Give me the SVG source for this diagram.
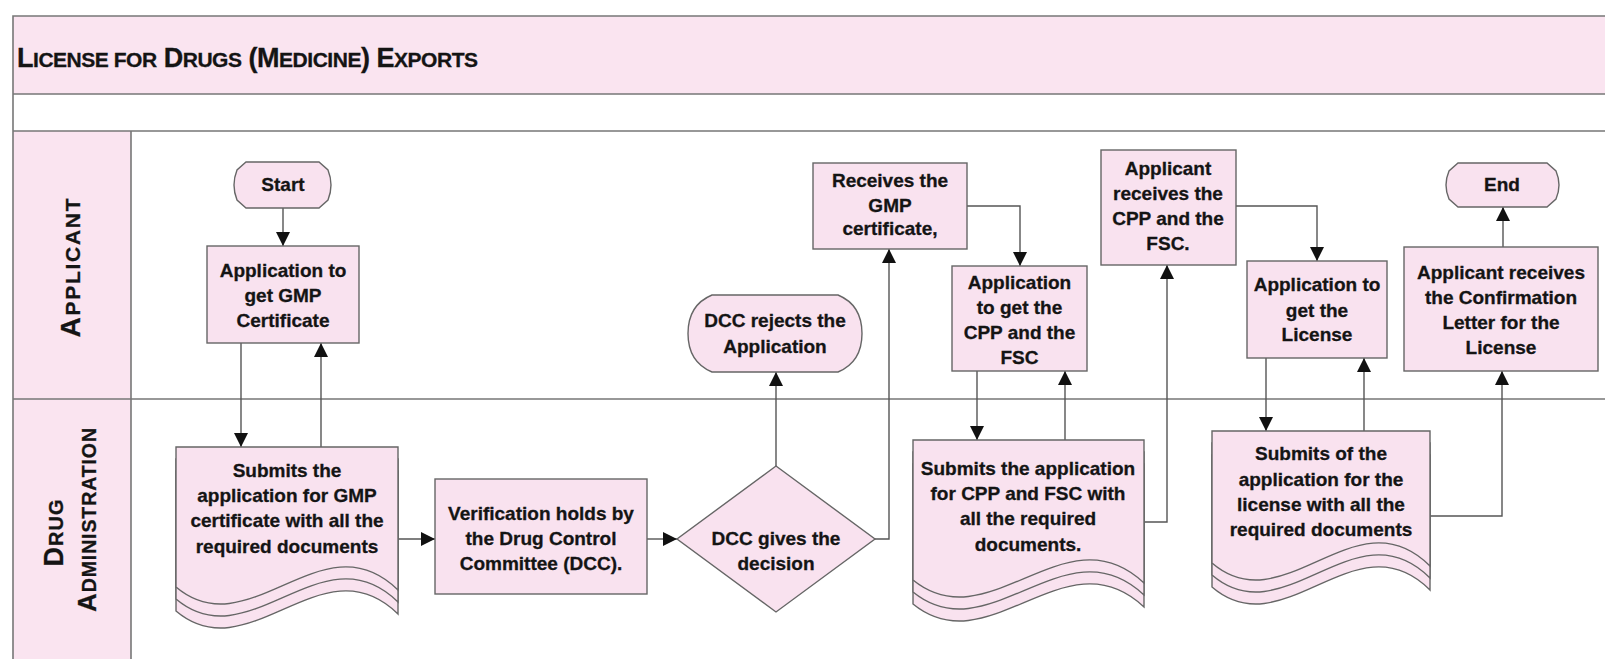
<svg xmlns="http://www.w3.org/2000/svg" width="1605" height="659" viewBox="0 0 1605 659">
<defs>
<style>
.frame{stroke:#777;stroke-width:1.6;fill:none}
.band{fill:#fae4f0}
.node{fill:#f9e2ef;stroke:#666;stroke-width:1.4}
.t{font-family:"Liberation Sans",Arial,sans-serif;font-weight:bold;font-size:19px;fill:#141414;text-anchor:middle;stroke:#141414;stroke-width:0.3}
.h{font-family:"Liberation Sans",Arial,sans-serif;font-weight:bold;fill:#141414;stroke:#141414;stroke-width:0.3}
.c{fill:none;stroke:#555;stroke-width:1.4}
</style>
<marker id="ah" viewBox="0 0 14 14" refX="14" refY="7" markerWidth="14" markerHeight="14" markerUnits="userSpaceOnUse" orient="auto">
<path d="M0,0 L14,7 L0,14 Z" fill="#111"/>
</marker>
</defs>
<rect width="1605" height="659" fill="#fff"/>
<g id="frame">
<rect class="band" x="13" y="16" width="1592" height="78"/>
<rect class="band" x="13" y="131" width="118" height="528"/>
<path class="frame" d="M1605,16 H13 V659 M13,94 H1605 M13,131 H1605 M13,399 H1605 M131,131 V659"/>
<text class="h" x="17" y="67" font-size="27" textLength="461" lengthAdjust="spacing">L<tspan font-size="21">ICENSE FOR</tspan> D<tspan font-size="21">RUGS</tspan> (M<tspan font-size="21">EDICINE</tspan>) E<tspan font-size="21">XPORTS</tspan></text>
<text class="h" transform="translate(80,268) rotate(-90)" text-anchor="middle" font-size="28" textLength="139" lengthAdjust="spacing">A<tspan font-size="21">PPLICANT</tspan></text>
<text class="h" transform="translate(63,533) rotate(-90)" text-anchor="middle" font-size="27" textLength="67" lengthAdjust="spacing">D<tspan font-size="20">RUG</tspan></text>
<text class="h" transform="translate(96,520) rotate(-90)" text-anchor="middle" font-size="26" textLength="184" lengthAdjust="spacing">A<tspan font-size="19.5">DMINISTRATION</tspan></text>
</g>
<g id="connectors">
<path class="c" marker-end="url(#ah)" d="M283,208 V246"/>
<path class="c" marker-end="url(#ah)" d="M241,343 V447"/>
<path class="c" marker-end="url(#ah)" d="M321,447 V343"/>
<path class="c" marker-end="url(#ah)" d="M398,539 H435"/>
<path class="c" marker-end="url(#ah)" d="M647,539 H677"/>
<path class="c" marker-end="url(#ah)" d="M776,466 V372"/>
<path class="c" marker-end="url(#ah)" d="M875,539 H889 V249"/>
<path class="c" marker-end="url(#ah)" d="M967,206 H1020 V266"/>
<path class="c" marker-end="url(#ah)" d="M977,371 V440"/>
<path class="c" marker-end="url(#ah)" d="M1065,440 V371"/>
<path class="c" marker-end="url(#ah)" d="M1144,522 H1167 V265"/>
<path class="c" marker-end="url(#ah)" d="M1236,206 H1317 V261"/>
<path class="c" marker-end="url(#ah)" d="M1266,358 V431"/>
<path class="c" marker-end="url(#ah)" d="M1364,431 V358"/>
<path class="c" marker-end="url(#ah)" d="M1430,516 H1502 V371"/>
<path class="c" marker-end="url(#ah)" d="M1503,247 V207"/>
</g>
<g id="start">
<path class="node" d="M246,162 H319 L328,170 Q334,185 328,200 L319,208 H246 L237,200 Q231,185 237,170 Z"/>
<text class="t" x="283" y="191">Start</text>
</g>
<g id="app-gmp">
<rect class="node" x="207" y="246" width="152" height="97"/>
<text class="t" x="283" y="277">Application to</text>
<text class="t" x="283" y="302">get GMP</text>
<text class="t" x="283" y="327">Certificate</text>
</g>
<g id="doc-gmp">
<path class="node" d="M176,471 H398 V614 C322.5,540 249.3,673 176,611 Z"/>
<path class="node" d="M176,459 H398 V602 C322.5,528 249.3,661 176,599 Z"/>
<path class="node" d="M176,447 H398 V590 C322.5,516 249.3,649 176,587 Z"/>
<text class="t" x="287" y="477">Submits the</text>
<text class="t" x="287" y="502">application for GMP</text>
<text class="t" x="287" y="527">certificate with all the</text>
<text class="t" x="287" y="553">required documents</text>
</g>
<g id="verification">
<rect class="node" x="435" y="479" width="212" height="115"/>
<text class="t" x="541" y="520">Verification holds by</text>
<text class="t" x="541" y="545">the Drug Control</text>
<text class="t" x="541" y="570">Committee (DCC).</text>
</g>
<g id="decision">
<polygon class="node" points="776,466 875,539 776,612 677,539"/>
<text class="t" x="776" y="545">DCC gives the</text>
<text class="t" x="776" y="570">decision</text>
</g>
<g id="rejects">
<path class="node" d="M712,295 H838 Q862,305 862,333.5 Q862,362 838,372 H712 Q688,362 688,333.5 Q688,305 712,295 Z"/>
<text class="t" x="775" y="327">DCC rejects the</text>
<text class="t" x="775" y="353">Application</text>
</g>
<g id="receives-gmp">
<rect class="node" x="813" y="163" width="154" height="86"/>
<text class="t" x="890" y="187">Receives the</text>
<text class="t" x="890" y="212">GMP</text>
<text class="t" x="890" y="235">certificate,</text>
</g>
<g id="app-cpp">
<rect class="node" x="952" y="266" width="135" height="105"/>
<text class="t" x="1019.5" y="289">Application</text>
<text class="t" x="1019.5" y="314">to get the</text>
<text class="t" x="1019.5" y="339">CPP and the</text>
<text class="t" x="1019.5" y="364">FSC</text>
</g>
<g id="doc-cpp">
<path class="node" d="M913,464 H1144 V607 C1065.5,533 989.2,666 913,604 Z"/>
<path class="node" d="M913,452 H1144 V595 C1065.5,521 989.2,654 913,592 Z"/>
<path class="node" d="M913,440 H1144 V583 C1065.5,509 989.2,642 913,580 Z"/>
<text class="t" x="1028" y="475">Submits the application</text>
<text class="t" x="1028" y="500">for CPP and FSC with</text>
<text class="t" x="1028" y="525">all the required</text>
<text class="t" x="1028" y="551">documents.</text>
</g>
<g id="receives-cpp">
<rect class="node" x="1101" y="150" width="135" height="115"/>
<text class="t" x="1168" y="175">Applicant</text>
<text class="t" x="1168" y="200">receives the</text>
<text class="t" x="1168" y="225">CPP and the</text>
<text class="t" x="1168" y="250">FSC.</text>
</g>
<g id="app-license">
<rect class="node" x="1247" y="261" width="140" height="97"/>
<text class="t" x="1317" y="291">Application to</text>
<text class="t" x="1317" y="317">get the</text>
<text class="t" x="1317" y="341">License</text>
</g>
<g id="doc-license">
<path class="node" d="M1212,455 H1430 V590 C1355.9,516 1283.9,649 1212,587 Z"/>
<path class="node" d="M1212,443 H1430 V578 C1355.9,504 1283.9,637 1212,575 Z"/>
<path class="node" d="M1212,431 H1430 V566 C1355.9,492 1283.9,625 1212,563 Z"/>
<text class="t" x="1321" y="460">Submits of the</text>
<text class="t" x="1321" y="486">application for the</text>
<text class="t" x="1321" y="511">license with all the</text>
<text class="t" x="1321" y="536">required documents</text>
</g>
<g id="confirmation">
<rect class="node" x="1404" y="247" width="194" height="124"/>
<text class="t" x="1501" y="279">Applicant receives</text>
<text class="t" x="1501" y="304">the Confirmation</text>
<text class="t" x="1501" y="329">Letter for the</text>
<text class="t" x="1501" y="354">License</text>
</g>
<g id="end">
<path class="node" d="M1458,163 H1547 L1556,171 Q1562,185 1556,199 L1547,207 H1458 L1449,199 Q1443,185 1449,171 Z"/>
<text class="t" x="1502" y="191">End</text>
</g>
</svg>
